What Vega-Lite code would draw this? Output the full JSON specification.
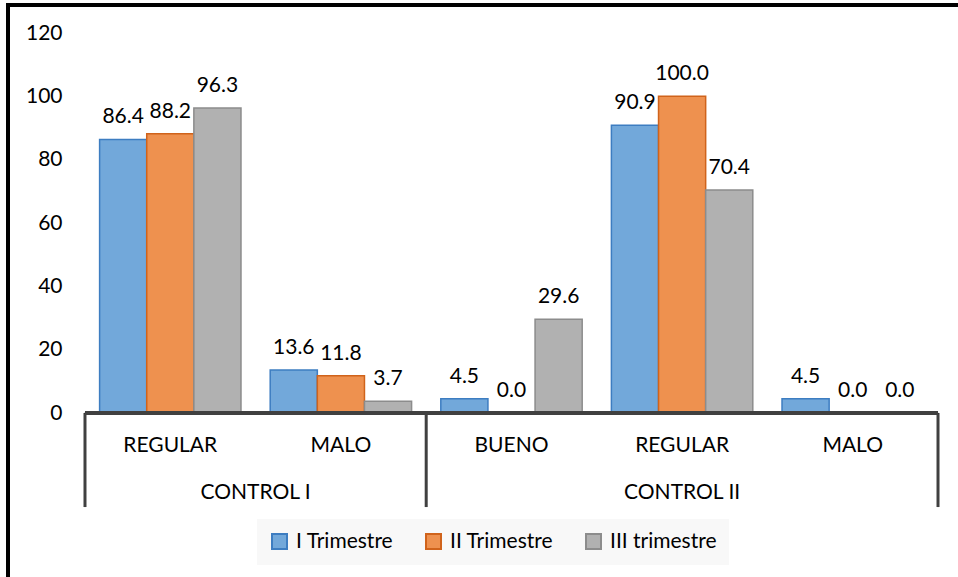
{
  "$schema": "https://vega.github.io/schema/vega-lite/v6.json",
  "width": 1007,
  "height": 580,
  "autosize": {"type": "none"},
  "padding": {"left": 8, "top": 5, "right": -57, "bottom": -8},
  "background": "white",
  "config": {
    "view": {"stroke": null},
    "font": "Lato",
    "text": {"font": "Lato", "fontSize": 21, "color": "#000000"},
    "legend": {
      "orient": "none",
      "legendX": 249,
      "legendY": 514,
      "direction": "horizontal",
      "symbolType": "square",
      "symbolSize": 225,
      "symbolStrokeWidth": 2,
      "labelFont": "Lato",
      "labelFontSize": 21,
      "labelColor": "#000000",
      "labelOffset": 6,
      "columnPadding": 28,
      "fillColor": "#F8F8F8",
      "padding": 12,
      "title": null
    }
  },
  "datasets": {
    "bars": [
      {"group": "CONTROL I", "cat": "REGULAR", "key": "CONTROL I|REGULAR", "serie": "I Trimestre", "value": 86.4},
      {"group": "CONTROL I", "cat": "REGULAR", "key": "CONTROL I|REGULAR", "serie": "II Trimestre", "value": 88.2},
      {"group": "CONTROL I", "cat": "REGULAR", "key": "CONTROL I|REGULAR", "serie": "III trimestre", "value": 96.3},
      {"group": "CONTROL I", "cat": "MALO", "key": "CONTROL I|MALO", "serie": "I Trimestre", "value": 13.6},
      {"group": "CONTROL I", "cat": "MALO", "key": "CONTROL I|MALO", "serie": "II Trimestre", "value": 11.8},
      {"group": "CONTROL I", "cat": "MALO", "key": "CONTROL I|MALO", "serie": "III trimestre", "value": 3.7},
      {"group": "CONTROL II", "cat": "BUENO", "key": "CONTROL II|BUENO", "serie": "I Trimestre", "value": 4.5},
      {"group": "CONTROL II", "cat": "BUENO", "key": "CONTROL II|BUENO", "serie": "II Trimestre", "value": 0.0},
      {"group": "CONTROL II", "cat": "BUENO", "key": "CONTROL II|BUENO", "serie": "III trimestre", "value": 29.6},
      {"group": "CONTROL II", "cat": "REGULAR", "key": "CONTROL II|REGULAR", "serie": "I Trimestre", "value": 90.9},
      {"group": "CONTROL II", "cat": "REGULAR", "key": "CONTROL II|REGULAR", "serie": "II Trimestre", "value": 100.0},
      {"group": "CONTROL II", "cat": "REGULAR", "key": "CONTROL II|REGULAR", "serie": "III trimestre", "value": 70.4},
      {"group": "CONTROL II", "cat": "MALO", "key": "CONTROL II|MALO", "serie": "I Trimestre", "value": 4.5},
      {"group": "CONTROL II", "cat": "MALO", "key": "CONTROL II|MALO", "serie": "II Trimestre", "value": 0.0},
      {"group": "CONTROL II", "cat": "MALO", "key": "CONTROL II|MALO", "serie": "III trimestre", "value": 0.0}
    ]
  },
  "data": {"name": "bars"},
  "layer": [
    {
      "mark": {"type": "bar", "strokeWidth": 1.5},
      "encoding": {
        "x": {
          "field": "key", "type": "nominal",
          "scale": {
            "domain": ["CONTROL I|REGULAR", "CONTROL I|MALO", "CONTROL II|BUENO", "CONTROL II|REGULAR", "CONTROL II|MALO"],
            "paddingInner": 0, "paddingOuter": 0.4513
          },
          "axis": null
        },
        "xOffset": {
          "field": "serie", "type": "nominal",
          "scale": {"domain": ["I Trimestre", "II Trimestre", "III trimestre"], "paddingInner": 0, "paddingOuter": 0.31}
        },
        "y": {
          "field": "value", "type": "quantitative",
          "scale": {"domain": [0, 120], "range": [408, 28], "nice": false, "zero": false},
          "axis": {
            "orient": "left", "values": [0, 20, 40, 60, 80, 100, 120],
            "domain": false, "ticks": false, "grid": false, "labelPadding": 0,
            "offset": -54, "labelFontSize": 21, "labelFont": "Lato", "labelColor": "#000000", "title": null
          }
        },
        "fill": {
          "field": "serie", "type": "nominal",
          "scale": {"domain": ["I Trimestre", "II Trimestre", "III trimestre"], "range": ["#72A8DA", "#EE914F", "#B1B1B1"]}
        },
        "stroke": {
          "field": "serie", "type": "nominal",
          "scale": {"domain": ["I Trimestre", "II Trimestre", "III trimestre"], "range": ["#3D7DC1", "#D0631B", "#8C8C8C"]}
        }
      }
    },
    {
      "mark": {"type": "text", "dy": -16, "baseline": "alphabetic", "align": "center"},
      "encoding": {
        "x": {"field": "key", "type": "nominal"},
        "xOffset": {"field": "serie", "type": "nominal"},
        "y": {"field": "value", "type": "quantitative"},
        "text": {"field": "value", "type": "quantitative", "format": ".1f"}
      }
    },
    {
      "transform": [{"filter": "datum.serie == 'I Trimestre'"}],
      "mark": {"type": "text", "baseline": "middle", "align": "center"},
      "encoding": {
        "x": {"field": "key", "type": "nominal"},
        "y": {"datum": -10.3},
        "text": {"field": "cat"}
      }
    },
    {
      "transform": [{"filter": "datum.key == 'CONTROL I|MALO' && datum.serie == 'I Trimestre'"}],
      "mark": {"type": "text", "baseline": "middle", "align": "center"},
      "encoding": {
        "x": {"field": "key", "type": "nominal", "bandPosition": 0},
        "y": {"datum": -25.4},
        "text": {"field": "group"}
      }
    },
    {
      "transform": [{"filter": "datum.key == 'CONTROL II|REGULAR' && datum.serie == 'I Trimestre'"}],
      "mark": {"type": "text", "baseline": "middle", "align": "center"},
      "encoding": {
        "x": {"field": "key", "type": "nominal", "bandPosition": 0.5},
        "y": {"datum": -25.4},
        "text": {"field": "group"}
      }
    },
    {
      "transform": [{"filter": "(datum.key == 'CONTROL I|REGULAR' || datum.key == 'CONTROL II|BUENO') && datum.serie == 'I Trimestre'"}],
      "mark": {"type": "rule", "color": "#404040", "strokeWidth": 3},
      "encoding": {
        "x": {"field": "key", "type": "nominal", "bandPosition": 0},
        "y": {"datum": 0},
        "y2": {"datum": -29.7}
      }
    },
    {
      "transform": [{"filter": "datum.key == 'CONTROL II|MALO' && datum.serie == 'I Trimestre'"}],
      "mark": {"type": "rule", "color": "#404040", "strokeWidth": 3},
      "encoding": {
        "x": {"field": "key", "type": "nominal", "bandPosition": 1},
        "y": {"datum": 0},
        "y2": {"datum": -29.7}
      }
    },
    {
      "mark": {"type": "rule", "color": "#404040", "strokeWidth": 3},
      "encoding": {
        "x": {"datum": "CONTROL I|REGULAR", "bandPosition": 0},
        "x2": {"datum": "CONTROL II|MALO", "bandPosition": 1},
        "y": {"datum": 0}
      }
    },
    {
      "mark": {"type": "rule", "color": "#000000", "strokeWidth": 3},
      "encoding": {
        "y": {"datum": 128.84}
      }
    },
    {
      "mark": {"type": "rule", "color": "#000000", "strokeWidth": 3},
      "encoding": {
        "x": {"datum": "CONTROL I|REGULAR", "bandPosition": -0.4513},
        "y": {"datum": 129.3},
        "y2": {"datum": -60}
      }
    }
  ]
}
